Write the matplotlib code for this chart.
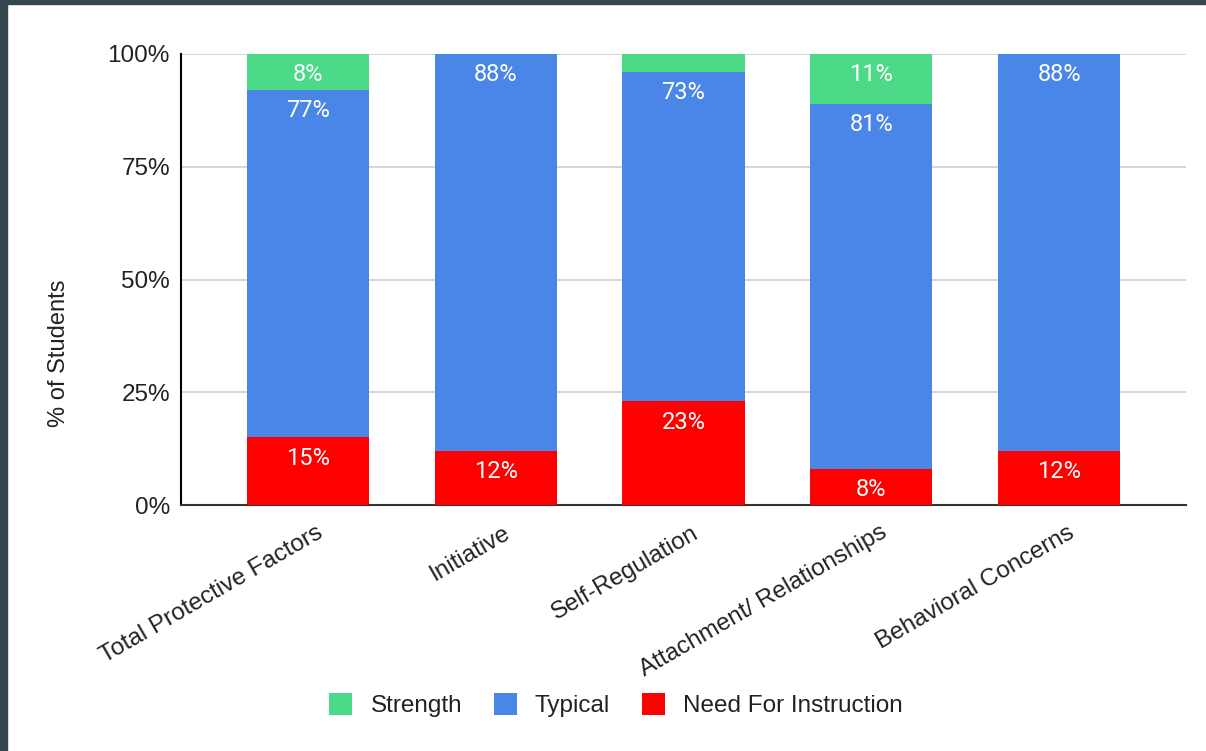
import matplotlib
matplotlib.use("Agg")
import matplotlib.pyplot as plt
from matplotlib.patches import Rectangle
from matplotlib.transforms import ScaledTranslation
import numpy as np

categories = ["Total Protective Factors", "Initiative", "Self-Regulation",
              "Attachment/ Relationships", "Behavioral Concerns"]
need_for_instruction = [15, 12, 23, 8, 12]
typical = [77, 88, 73, 81, 88]
strength = [8, 0, 4, 11, 0]

series = [
    ("Need For Instruction", need_for_instruction, "#ff0000"),
    ("Typical", typical, "#4a86e8"),
    ("Strength", strength, "#4cd988"),
]
legend_order = ["Strength", "Typical", "Need For Instruction"]

W, H = 1206, 751
fig = plt.figure(figsize=(W / 100, H / 100), dpi=100)
fig.patch.set_facecolor("white")

# dark frame along the top and left edges
frame = "#37474f"
fig.patches.append(Rectangle((0, 1 - 4 / H), 1, 4 / H, transform=fig.transFigure,
                             color=frame, zorder=10))
fig.patches.append(Rectangle((0, 0), 7 / W, 1, transform=fig.transFigure,
                             color=frame, zorder=10))

ax_left, ax_right, ax_top, ax_bottom = 181, 1186, 54, 505
ax = fig.add_axes([ax_left / W, 1 - ax_bottom / H,
                   (ax_right - ax_left) / W, (ax_bottom - ax_top) / H])

text_color = "#222222"
axis_font = "Liberation Sans"
axis_size = 17.5

x = np.arange(len(categories))
width = 0.65
bottom = np.zeros(len(categories))
handles = {}
for name, vals, color in series:
    vals = np.array(vals, dtype=float)
    bars = ax.bar(x, vals, width, bottom=bottom, color=color, zorder=3,
                  linewidth=0, label=name)
    handles[name] = bars
    for xi, b, v in zip(x, bottom, vals):
        if v >= 5:
            ax.annotate(f"{v:.0f}%", xy=(xi, b + v), xytext=(0, -15),
                        textcoords="offset points", ha="center", va="center",
                        color="white", fontsize=17, family="Roboto", zorder=5)
    bottom = bottom + vals

ax.set_xlim(-127 / 188, len(categories) - 1 + 127 / 188)
ax.set_ylim(0, 100)
ax.set_yticks([0, 25, 50, 75, 100])
ax.set_yticklabels(["0%", "25%", "50%", "75%", "100%"])
ax.yaxis.grid(True, color="#d0d0d0", linewidth=1.2, zorder=0)
ax.set_axisbelow(True)
ax.tick_params(axis="both", length=0, labelsize=axis_size, labelcolor=text_color)
ax.tick_params(axis="y", pad=8)
for lbl in ax.get_yticklabels():
    lbl.set_family(axis_font)

ax.set_xticks(x)
ax.set_xticklabels(categories, rotation=30, ha="right", rotation_mode="anchor",
                   family=axis_font, fontsize=axis_size, color=text_color)
ax.tick_params(axis="x", pad=12)
shift = ScaledTranslation(8 / 100, 0, fig.dpi_scale_trans)
for lbl in ax.get_xticklabels():
    lbl.set_transform(lbl.get_transform() + shift)

for s in ["top", "right"]:
    ax.spines[s].set_visible(False)
ax.spines["left"].set_color("#000000")
ax.spines["left"].set_linewidth(1.5)
ax.spines["bottom"].set_color("#333333")
ax.spines["bottom"].set_linewidth(1.5)

fig.text(59 / W, 1 - 353 / H, "% of Students", rotation=90, ha="center",
         va="center", fontsize=17, family=axis_font, color=text_color)

leg = fig.legend([handles[n] for n in legend_order], legend_order,
                 loc="center", bbox_to_anchor=(616 / W, 1 - 705 / H),
                 ncol=3, frameon=False, prop={"family": axis_font, "size": axis_size},
                 handlelength=0.95, handleheight=1.0, handletextpad=0.75,
                 columnspacing=1.3)
for t in leg.get_texts():
    t.set_color(text_color)

fig.savefig("out.png", dpi=100)
